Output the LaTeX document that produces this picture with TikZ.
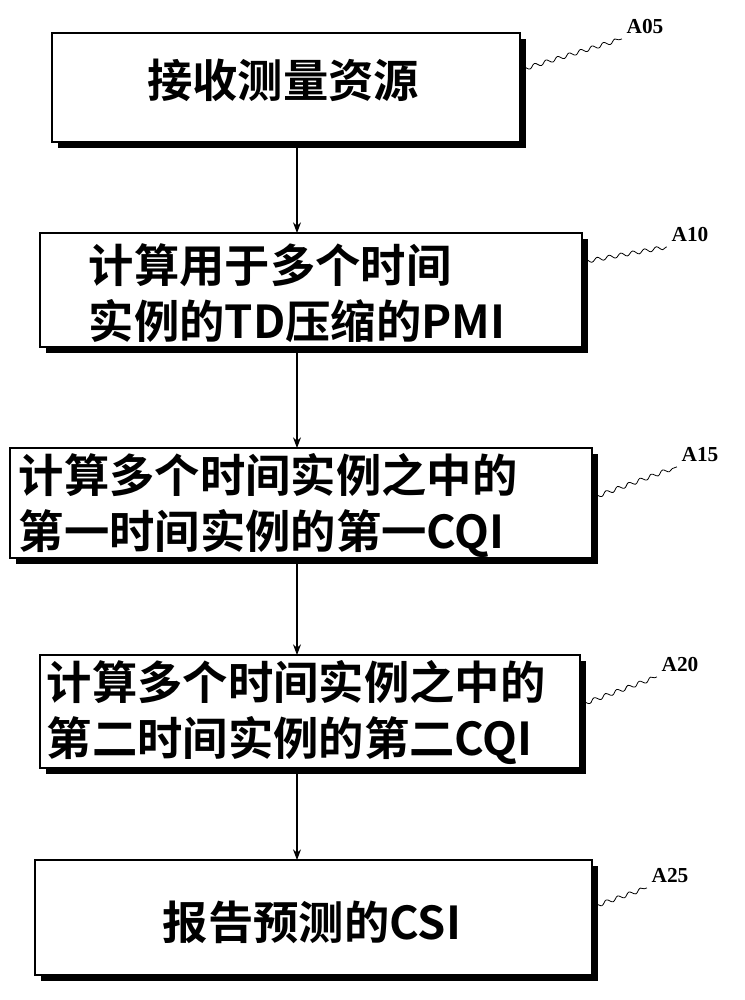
\documentclass[tikz,border=0pt]{standalone}
\usepackage{fontspec}
\newfontfamily\cjk{Noto Sans CJK SC}[BoldFont={Noto Sans CJK SC Bold}]
\newfontfamily\lbl{Liberation Serif}
\usetikzlibrary{decorations.pathmorphing,arrows.meta}
\begin{document}
\begin{tikzpicture}[x=0.75pt,y=-0.75pt,
  box/.style={draw=black,line width=1.6pt,fill=white,inner sep=0pt},
  txt/.style={font=\cjk\bfseries\fontsize{34}{42}\selectfont,align=left},
  lab/.style={font=\lbl\bfseries\fontsize{16}{18}\selectfont},
  wav/.style={line width=0.6pt,decorate,decoration={snake,amplitude=1.5pt,segment length=9pt}},
  arr/.style={line width=0.8pt,-{Stealth[length=8pt,width=6pt]}}]
\useasboundingbox (0,0) rectangle (744,1000);
\newcommand\mybox[5]{%
  \fill (#1+6,#2+6) rectangle (#3+6,#4+6);
  \draw[box] (#1,#2) rectangle (#3,#4);}
\mybox{52}{33}{520}{142}{a}
\mybox{40}{233}{582}{347}{b}
\mybox{10}{448}{592}{558}{c}
\mybox{40}{655}{580}{768}{d}
\mybox{35}{860}{592}{975}{e}
\node[txt] (ta) at (283,80) {接收测量资源};
\node[txt,anchor=west] (tb) at (84,293) {计算用于多个时间\\实例的TD压缩的PMI};
\node[txt,anchor=west] (tc) at (14,506) {计算多个时间实例之中的\\第一时间实例的第一CQI};
\node[txt,anchor=west] (td) at (42,713) {计算多个时间实例之中的\\第二时间实例的第二CQI};
\node[txt] (te) at (312,922) {报告预测的CSI};
\node[lab] (la) at (645,27) {A05};
\node[lab] (lb) at (690,235) {A10};
\node[lab] (lc) at (700,455) {A15};
\node[lab] (ld) at (680,665) {A20};
\node[lab] (le) at (670,876) {A25};
\draw[wav] (520,70) -- (la.south west);
\draw[wav] (582,262) -- (lb.south west);
\draw[wav] (592,498) -- (lc.south west);
\draw[wav] (580,705) -- (ld.south west);
\draw[wav] (592,907) -- (le.south west);
\coordinate (x1) at (297,148); \coordinate (y1) at (297,233);
\coordinate (x2) at (297,353); \coordinate (y2) at (297,448);
\coordinate (x3) at (297,564); \coordinate (y3) at (297,655);
\coordinate (x4) at (297,774); \coordinate (y4) at (297,860);
\draw[arr] (x1) -- (y1);
\draw[arr] (x2) -- (y2);
\draw[arr] (x3) -- (y3);
\draw[arr] (x4) -- (y4);
\end{tikzpicture}
\end{document}
